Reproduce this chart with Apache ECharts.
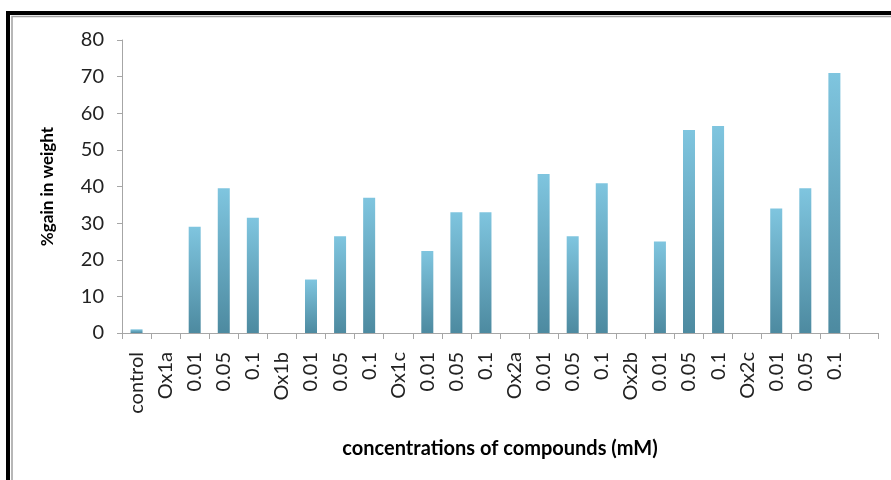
<!DOCTYPE html>
<html>
<head>
<meta charset="utf-8">
<style>
  html, body { margin: 0; padding: 0; background: #fff; }
  #chart { width: 891px; height: 480px; }
</style>
<script src="https://cdn.jsdelivr.net/npm/echarts@6/dist/echarts.min.js"></script>
</head>
<body>
<div id="chart"></div>
<script>
// Category labels along the x axis (last slot is an empty trailing category)
const categories = ['control',
  'Ox1a', '0.01', '0.05', '0.1',
  'Ox1b', '0.01', '0.05', '0.1',
  'Ox1c', '0.01', '0.05', '0.1',
  'Ox2a', '0.01', '0.05', '0.1',
  'Ox2b', '0.01', '0.05', '0.1',
  'Ox2c', '0.01', '0.05', '0.1',
  ''];

// % gain in weight for each category (group headers carry no bar)
const gainValues = [1,
  null, 29, 39.5, 31.5,
  null, 14.6, 26.4, 36.9,
  null, 22.4, 33, 33,
  null, 43.4, 26.4, 40.9,
  null, 25, 55.4, 56.5,
  null, 34, 39.5, 71,
  null];

const yTicks = { min: 0, max: 80, interval: 10 };

const chart = echarts.init(document.getElementById('chart'), null, { renderer: 'canvas' });

const fontFamily = 'Lato, "Open Sans", sans-serif';

chart.setOption({
  backgroundColor: '#ffffff',
  animation: false,
  grid: { left: 122, right: 13, top: 40, bottom: 147, containLabel: false },
  xAxis: {
    type: 'category',
    data: categories,
    name: 'concentrations of compounds (mM)',
    nameLocation: 'middle',
    nameGap: 106,
    nameTextStyle: { fontFamily, fontSize: 20, fontWeight: 'bold', color: '#000' },
    axisLine: { show: true, lineStyle: { color: '#a6a6a6', width: 1 } },
    axisTick: { show: true, alignWithLabel: false, length: 6, lineStyle: { color: '#a6a6a6' } },
    axisLabel: {
      rotate: 90, interval: 0, margin: 19,
      fontFamily, fontSize: 20, color: '#222'
    },
    splitLine: { show: false }
  },
  yAxis: {
    type: 'value',
    min: yTicks.min, max: yTicks.max, interval: yTicks.interval,
    name: '%gain in weight',
    nameLocation: 'middle',
    nameGap: 66,
    nameTextStyle: { fontFamily, fontSize: 17, fontWeight: 'bold', color: '#000' },
    axisLine: { show: true, lineStyle: { color: '#a6a6a6', width: 1 } },
    axisTick: { show: true, length: 5, lineStyle: { color: '#a6a6a6' } },
    axisLabel: { margin: 18, fontFamily, fontSize: 20, color: '#222' },
    splitLine: { show: false }
  },
  series: [{
    type: 'bar',
    data: gainValues,
    barWidth: 12,
    itemStyle: {
      color: new echarts.graphic.LinearGradient(0, 0, 0, 1, [
        { offset: 0, color: '#7fc5df' },
        { offset: 1, color: '#4d8aa0' }
      ])
    }
  }],
  graphic: [
    // outer black frame (top and left edges)
    { type: 'polyline', silent: true,
      shape: { points: [[8, 480], [8, 13], [891, 13]] },
      style: { stroke: '#000', lineWidth: 4, fill: null } },
    // thin grey inner frame line
    { type: 'polyline', silent: true,
      shape: { points: [[12, 480], [12, 16.5], [891, 16.5]] },
      style: { stroke: '#a0a0a0', lineWidth: 1.5, fill: null } }
  ]
});
</script>
</body>
</html>
